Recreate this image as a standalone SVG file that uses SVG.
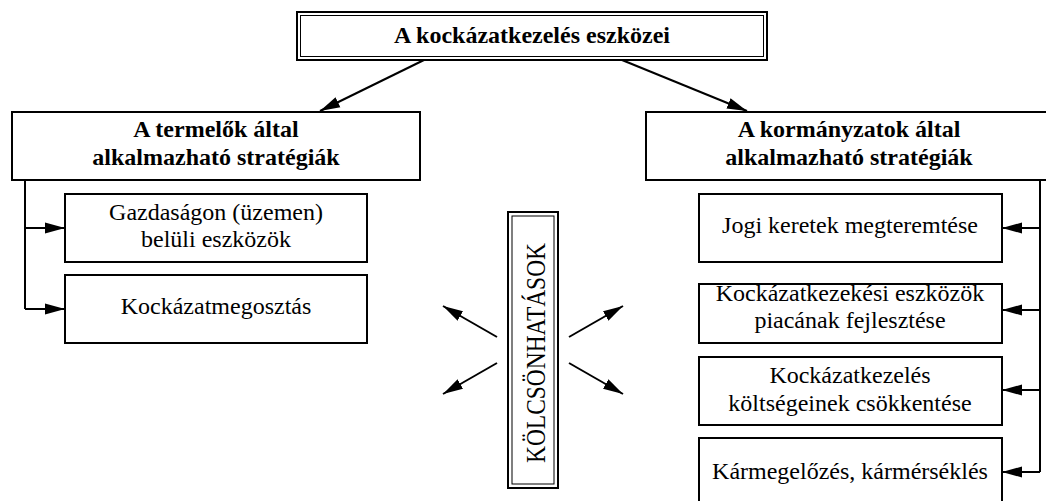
<svg xmlns="http://www.w3.org/2000/svg" width="1046" height="501" viewBox="0 0 1046 501">
<style>
.box{fill:#fff;stroke:#000;stroke-width:2}
.thin{fill:none;stroke:#000;stroke-width:1}
.ln{fill:none;stroke:#000;stroke-width:2}
.b{font-family:"Liberation Serif","Times New Roman",serif;font-weight:bold;font-size:24px;text-anchor:middle;fill:#000}
.r{font-family:"Liberation Serif","Times New Roman",serif;font-size:24px;text-anchor:middle;fill:#000}
</style>
<defs>
<marker id="ah" markerUnits="userSpaceOnUse" markerWidth="20" markerHeight="12" refX="20" refY="6" orient="auto">
<path d="M0,0.5 L20,6 L0,11.5 z" fill="#000"/>
</marker>
</defs>
<rect width="1046" height="501" fill="#fff"/>
<g id="connectors">
<line class="ln" x1="424" y1="60" x2="320" y2="111" marker-end="url(#ah)"/>
<line class="ln" x1="622" y1="60" x2="747" y2="111" marker-end="url(#ah)"/>
<path class="ln" d="M25,180 V309"/>
<line class="ln" x1="25" y1="228" x2="65" y2="228" marker-end="url(#ah)"/>
<line class="ln" x1="25" y1="309" x2="65" y2="309" marker-end="url(#ah)"/>
<path class="ln" d="M1040,180 V472"/>
<line class="ln" x1="1040" y1="228" x2="1002" y2="228" marker-end="url(#ah)"/>
<line class="ln" x1="1040" y1="310" x2="1002" y2="310" marker-end="url(#ah)"/>
<line class="ln" x1="1040" y1="390" x2="1002" y2="390" marker-end="url(#ah)"/>
<line class="ln" x1="1040" y1="472" x2="1002" y2="472" marker-end="url(#ah)"/>
<line class="ln" x1="497" y1="337" x2="443" y2="306" marker-end="url(#ah)"/>
<line class="ln" x1="497" y1="363" x2="443" y2="394" marker-end="url(#ah)"/>
<line class="ln" x1="569" y1="337" x2="623" y2="306" marker-end="url(#ah)"/>
<line class="ln" x1="569" y1="363" x2="623" y2="394" marker-end="url(#ah)"/>
</g>
<g id="root">
<rect class="box" x="297" y="12" width="470" height="48"/>
<rect class="thin" x="300.5" y="15.5" width="463" height="41"/>
<text class="b" x="532" y="43">A kockázatkezelés eszközei</text>
</g>
<g id="producers">
<rect class="box" x="12" y="112" width="408" height="68"/>
<text class="b" x="216" y="137">A termelők által</text>
<text class="b" x="216" y="165">alkalmazható stratégiák</text>
</g>
<g id="governments">
<rect class="box" x="646" y="112" width="410" height="68"/>
<text class="b" x="849" y="137">A kormányzatok által</text>
<text class="b" x="849" y="165">alkalmazható stratégiák</text>
</g>
<g id="p1">
<rect class="box" x="65" y="194" width="302" height="68"/>
<text class="r" x="216" y="220">Gazdaságon (üzemen)</text>
<text class="r" x="216" y="247">belüli eszközök</text>
</g>
<g id="p2">
<rect class="box" x="65" y="275" width="302" height="68"/>
<text class="r" x="216" y="314">Kockázatmegosztás</text>
</g>
<g id="g1">
<rect class="box" x="699" y="194" width="303" height="68"/>
<text class="r" x="850" y="233">Jogi keretek megteremtése</text>
</g>
<g id="g2">
<rect class="box" x="699" y="284" width="303" height="59"/>
<text class="r" x="850" y="301">Kockázatkezekési eszközök</text>
<text class="r" x="850" y="328">piacának fejlesztése</text>
</g>
<g id="g3">
<rect class="box" x="699" y="357" width="303" height="68"/>
<text class="r" x="850" y="383">Kockázatkezelés</text>
<text class="r" x="850" y="411">költségeinek csökkentése</text>
</g>
<g id="g4">
<rect class="box" x="699" y="438" width="303" height="72"/>
<text class="r" x="850" y="479">Kármegelőzés, kármérséklés</text>
</g>
<g id="interactions">
<rect class="box" x="508" y="212" width="50" height="276"/>
<rect class="thin" x="512" y="216" width="42" height="268"/>
<text class="r" transform="translate(545,353) rotate(-90)" x="0" y="0" style="font-size:27px" textLength="220" lengthAdjust="spacingAndGlyphs">KÖLCSÖNHATÁSOK</text>
</g>
</svg>
